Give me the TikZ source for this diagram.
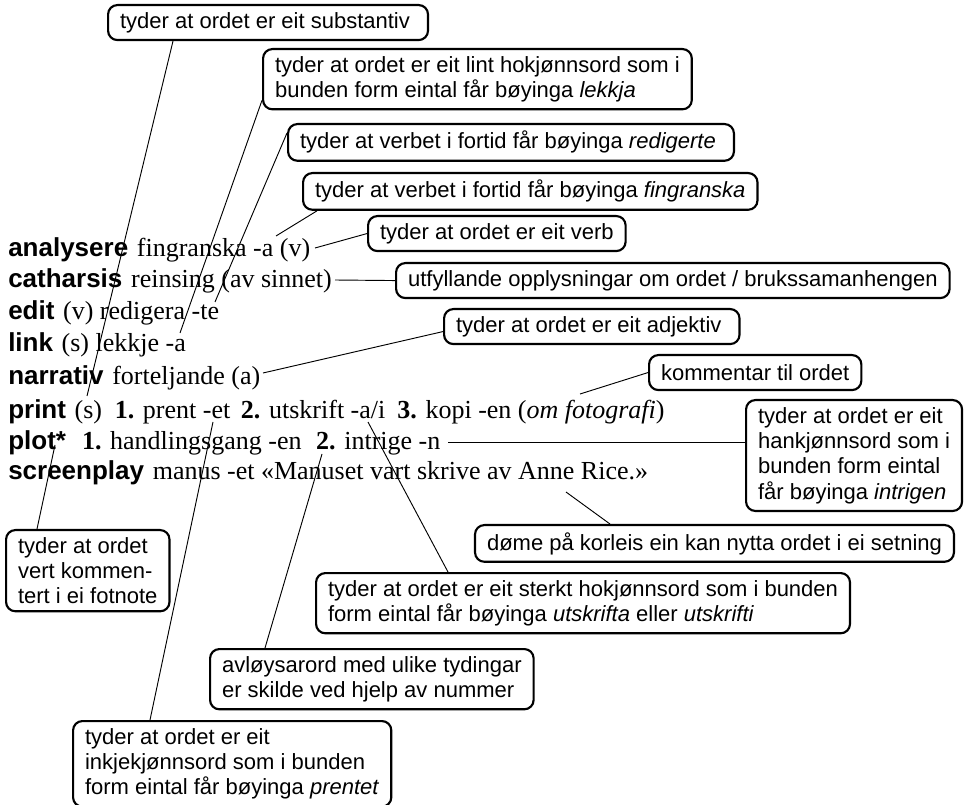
\documentclass[tikz,border=0pt]{standalone}
\usepackage{fontspec}
\setmainfont{Liberation Serif}
\setsansfont{Liberation Sans}
\usetikzlibrary{calc}

\tikzset{
  forkl/.style={draw, line width=1.6pt, rounded corners=7pt, align=left,
    font=\sffamily\fontsize{16.5pt}{19pt}\selectfont,
    inner xsep=9pt, inner ysep=5.4pt, minimum height=26.25pt},
  ord/.style={anchor=base west, inner sep=0pt, font=\fontsize{19.5pt}{24pt}\selectfont},
  strek/.style={line width=0.7pt}
}
\newcommand{\oppslag}[1]{{\sffamily\bfseries #1}\hspace{6.5pt}}

\begin{document}
\begin{tikzpicture}[x=0.75pt,y=-0.75pt]
\useasboundingbox (0,0) rectangle (968,805);
% ordlista
\node[ord] (ana) at (8,257) {\oppslag{analysere}fingranska -a (v)};
\node[ord] (cat) at (8,288) {\oppslag{catharsis}reinsing (av sinnet)};
\node[ord] (edi) at (8,320) {\oppslag{edit}(v) redigera -te};
\node[ord] (lin) at (8,352) {\oppslag{link}(s) lekkje -a};
\node[ord] (nar) at (8,385) {\oppslag{narrativ}forteljande (a)};
\node[ord] (pri) at (8,419) {\oppslag{print}(s)\hspace{9.5pt}\textbf{1.} prent -et\hspace{8pt}\textbf{2.} utskrift -a/i\hspace{9pt}\textbf{3.} kopi -en (\textit{om fotografi})};
\node[ord] (plo) at (8,450) {\oppslag{plot*}\hspace{5.5pt}\textbf{1.} handlingsgang -en\hspace{11pt}\textbf{2.} intrige -n};
\node[ord] (scr) at (8,480) {\oppslag{screenplay}manus -et «Manuset vart skrive av Anne Rice.»};

% forklaringar
\node[forkl, anchor=north west] (subst) at (107,4) {tyder at ordet er eit substantiv\ };
\node[forkl, anchor=north west] (lekk) at (262,48) {tyder at ordet er eit lint hokjønnsord som i\\bunden form eintal får bøyinga \textit{lekkja}};
\node[forkl, anchor=north west] (redig) at (287,123) {tyder at verbet i fortid får bøyinga \textit{redigerte}\ };
\node[forkl, anchor=north west] (fingr) at (302,172) {tyder at verbet i fortid får bøyinga \textit{fingranska}};
\node[forkl, anchor=north west] (verb) at (367,215) {tyder at ordet er eit verb};
\node[forkl, anchor=north west] (utf) at (395,262) {utfyllande opplysningar om ordet / brukssamanhengen};
\node[forkl, anchor=north west] (adj) at (443,308) {tyder at ordet er eit adjektiv\ };
\node[forkl, anchor=north west] (komm) at (648,354) {kommentar til ordet};
\node[forkl, anchor=north west] (intr) at (745,399) {tyder at ordet er eit\\hankjønnsord som i\\bunden form eintal\\får bøyinga \textit{intrigen}};
\node[forkl, anchor=north east] (dome) at (955,524) {døme på korleis ein kan nytta ordet i ei setning};
\node[forkl, anchor=north west] (utsk) at (315,572) {tyder at ordet er eit sterkt hokjønnsord som i bunden\\form eintal får bøyinga \textit{utskrifta} eller \textit{utskrifti}};
\node[forkl, anchor=north west] (avl) at (209,648) {avløysarord med ulike tydingar\\er skilde ved hjelp av nummer};
\node[forkl, anchor=north west] (prent) at (72,720) {tyder at ordet er eit\\inkjekjønnsord som i bunden\\form eintal får bøyinga \textit{prentet}};
\node[forkl, anchor=north west] (fot) at (5,529) {tyder at ordet\\vert kommen-\\tert i ei fotnote};

% punkt i ordlista
\coordinate (p-s) at (87,396);
\coordinate (p-lekkje) at (180,333);
\coordinate (p-te) at (215,302);
\coordinate (p-fing) at (276,236);
\coordinate (p-v) at (315,248);
\coordinate (p-sinn) at (335,280);
\coordinate (p-adj) at (263,373);
\coordinate (p-foto) at (580,394);
\coordinate (p-n) at (448,442);
\coordinate (p-rice) at (566,492);
\coordinate (p-ai) at (368,422);
\coordinate (p-to) at (322,454);
\coordinate (p-et) at (213,422);
\coordinate (p-stjerne) at (55,445);

% strekar
\draw[strek] ($(subst.south west)+(66,0)$) -- (p-s);
\draw[strek] ($(lekk.south west)+(0,-10)$) -- (p-lekkje);
\draw[strek] ($(redig.north west)+(0,10)$) -- (p-te);
\draw[strek] ($(fingr.south west)+(15,0)$) -- (p-fing);
\draw[strek] (verb.west) -- (p-v);
\draw[strek] (utf.west) -- (p-sinn);
\draw[strek] ($(adj.west)+(0,5)$) -- (p-adj);
\draw[strek] (komm.west) -- (p-foto);
\draw[strek] (p-n) -- (p-n -| intr.west);
\draw[strek] ($(dome.north east)+(-345,0)$) -- (p-rice);
\draw[strek] ($(utsk.north west)+(133,0)$) -- (p-ai);
\draw[strek] ($(avl.north west)+(56,0)$) -- (p-to);
\draw[strek] ($(prent.north west)+(78,0)$) -- (p-et);
\draw[strek] ($(fot.north west)+(32,0)$) -- (p-stjerne);
\end{tikzpicture}
\end{document}
